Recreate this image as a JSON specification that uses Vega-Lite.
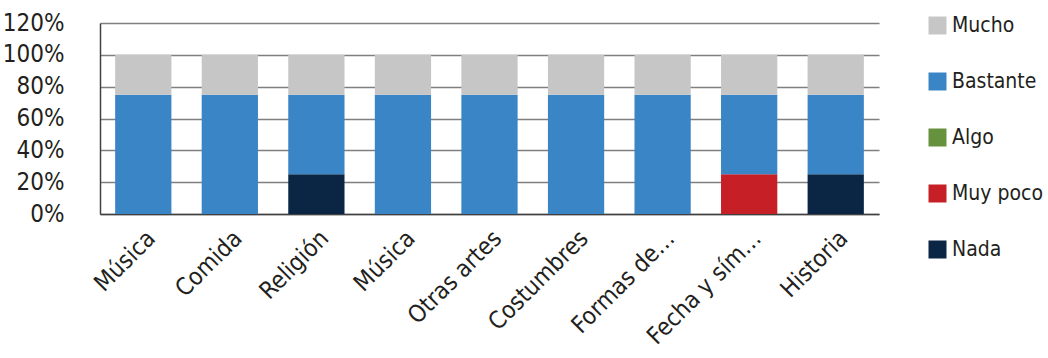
{
  "$schema": "https://vega.github.io/schema/vega-lite/v6.json",
  "autosize": {"type": "none"},
  "width": 779,
  "height": 191,
  "padding": {"left": 100, "top": 23, "right": 169, "bottom": 144},
  "background": "white",
  "config": {
    "font": "'DejaVu Sans Condensed', sans-serif",
    "view": {"stroke": null}
  },
  "data": {
    "values": [
      {"pos": 0, "categoria": "Música", "nivel": "Nada", "orden": 1, "valor": 0},
      {"pos": 0, "categoria": "Música", "nivel": "Muy poco", "orden": 2, "valor": 0},
      {"pos": 0, "categoria": "Música", "nivel": "Algo", "orden": 3, "valor": 0},
      {"pos": 0, "categoria": "Música", "nivel": "Bastante", "orden": 4, "valor": 75},
      {"pos": 0, "categoria": "Música", "nivel": "Mucho", "orden": 5, "valor": 25},
      {"pos": 1, "categoria": "Comida", "nivel": "Nada", "orden": 1, "valor": 0},
      {"pos": 1, "categoria": "Comida", "nivel": "Muy poco", "orden": 2, "valor": 0},
      {"pos": 1, "categoria": "Comida", "nivel": "Algo", "orden": 3, "valor": 0},
      {"pos": 1, "categoria": "Comida", "nivel": "Bastante", "orden": 4, "valor": 75},
      {"pos": 1, "categoria": "Comida", "nivel": "Mucho", "orden": 5, "valor": 25},
      {"pos": 2, "categoria": "Religión", "nivel": "Nada", "orden": 1, "valor": 25},
      {"pos": 2, "categoria": "Religión", "nivel": "Muy poco", "orden": 2, "valor": 0},
      {"pos": 2, "categoria": "Religión", "nivel": "Algo", "orden": 3, "valor": 0},
      {"pos": 2, "categoria": "Religión", "nivel": "Bastante", "orden": 4, "valor": 50},
      {"pos": 2, "categoria": "Religión", "nivel": "Mucho", "orden": 5, "valor": 25},
      {"pos": 3, "categoria": "Música", "nivel": "Nada", "orden": 1, "valor": 0},
      {"pos": 3, "categoria": "Música", "nivel": "Muy poco", "orden": 2, "valor": 0},
      {"pos": 3, "categoria": "Música", "nivel": "Algo", "orden": 3, "valor": 0},
      {"pos": 3, "categoria": "Música", "nivel": "Bastante", "orden": 4, "valor": 75},
      {"pos": 3, "categoria": "Música", "nivel": "Mucho", "orden": 5, "valor": 25},
      {"pos": 4, "categoria": "Otras artes", "nivel": "Nada", "orden": 1, "valor": 0},
      {"pos": 4, "categoria": "Otras artes", "nivel": "Muy poco", "orden": 2, "valor": 0},
      {"pos": 4, "categoria": "Otras artes", "nivel": "Algo", "orden": 3, "valor": 0},
      {"pos": 4, "categoria": "Otras artes", "nivel": "Bastante", "orden": 4, "valor": 75},
      {"pos": 4, "categoria": "Otras artes", "nivel": "Mucho", "orden": 5, "valor": 25},
      {"pos": 5, "categoria": "Costumbres", "nivel": "Nada", "orden": 1, "valor": 0},
      {"pos": 5, "categoria": "Costumbres", "nivel": "Muy poco", "orden": 2, "valor": 0},
      {"pos": 5, "categoria": "Costumbres", "nivel": "Algo", "orden": 3, "valor": 0},
      {"pos": 5, "categoria": "Costumbres", "nivel": "Bastante", "orden": 4, "valor": 75},
      {"pos": 5, "categoria": "Costumbres", "nivel": "Mucho", "orden": 5, "valor": 25},
      {"pos": 6, "categoria": "Formas de...", "nivel": "Nada", "orden": 1, "valor": 0},
      {"pos": 6, "categoria": "Formas de...", "nivel": "Muy poco", "orden": 2, "valor": 0},
      {"pos": 6, "categoria": "Formas de...", "nivel": "Algo", "orden": 3, "valor": 0},
      {"pos": 6, "categoria": "Formas de...", "nivel": "Bastante", "orden": 4, "valor": 75},
      {"pos": 6, "categoria": "Formas de...", "nivel": "Mucho", "orden": 5, "valor": 25},
      {"pos": 7, "categoria": "Fecha y sím...", "nivel": "Nada", "orden": 1, "valor": 0},
      {"pos": 7, "categoria": "Fecha y sím...", "nivel": "Muy poco", "orden": 2, "valor": 25},
      {"pos": 7, "categoria": "Fecha y sím...", "nivel": "Algo", "orden": 3, "valor": 0},
      {"pos": 7, "categoria": "Fecha y sím...", "nivel": "Bastante", "orden": 4, "valor": 50},
      {"pos": 7, "categoria": "Fecha y sím...", "nivel": "Mucho", "orden": 5, "valor": 25},
      {"pos": 8, "categoria": "Historia", "nivel": "Nada", "orden": 1, "valor": 25},
      {"pos": 8, "categoria": "Historia", "nivel": "Muy poco", "orden": 2, "valor": 0},
      {"pos": 8, "categoria": "Historia", "nivel": "Algo", "orden": 3, "valor": 0},
      {"pos": 8, "categoria": "Historia", "nivel": "Bastante", "orden": 4, "valor": 50},
      {"pos": 8, "categoria": "Historia", "nivel": "Mucho", "orden": 5, "valor": 25}
    ]
  },
  "mark": {"type": "bar"},
  "encoding": {
    "x": {
      "field": "pos",
      "type": "ordinal",
      "scale": {"paddingInner": 0.35, "paddingOuter": 0.175},
      "axis": {
        "title": null,
        "labelExpr": "['Música','Comida','Religión','Música','Otras artes','Costumbres','Formas de…','Fecha y sím…','Historia'][datum.value]",
        "labelAngle": -45,
        "labelAlign": "right",
        "labelBaseline": "top",
        "labelFontSize": 24,
        "labelColor": "#231f20",
        "labelPadding": 12,
        "ticks": false,
        "domainColor": "#404040",
        "domainWidth": 1.5,
        "grid": false
      }
    },
    "y": {
      "field": "valor",
      "type": "quantitative",
      "stack": "zero",
      "scale": {"domain": [0, 120], "nice": false},
      "axis": {
        "title": null,
        "values": [0, 20, 40, 60, 80, 100, 120],
        "labelExpr": "datum.value + '%'",
        "labelFontSize": 24,
        "labelColor": "#231f20",
        "labelPadding": 36,
        "ticks": false,
        "domainColor": "#404040",
        "domainWidth": 1.5,
        "gridColor": "#7f7f7f",
        "gridWidth": 1.5,
        "gridOpacity": 1
      }
    },
    "color": {
      "field": "nivel",
      "type": "nominal",
      "scale": {
        "domain": ["Mucho", "Bastante", "Algo", "Muy poco", "Nada"],
        "range": ["#c6c6c6", "#3a85c5", "#66913d", "#c62026", "#0b2545"]
      },
      "legend": {
        "title": null,
        "orient": "none",
        "legendX": 827,
        "legendY": -8,
        "symbolType": "square",
        "symbolSize": 324,
        "symbolStrokeWidth": 0,
        "labelFontSize": 21,
        "labelColor": "#231f20",
        "labelOffset": 4,
        "rowPadding": 34,
        "padding": 0
      }
    },
    "order": {"field": "orden", "type": "quantitative", "sort": "ascending"}
  }
}
